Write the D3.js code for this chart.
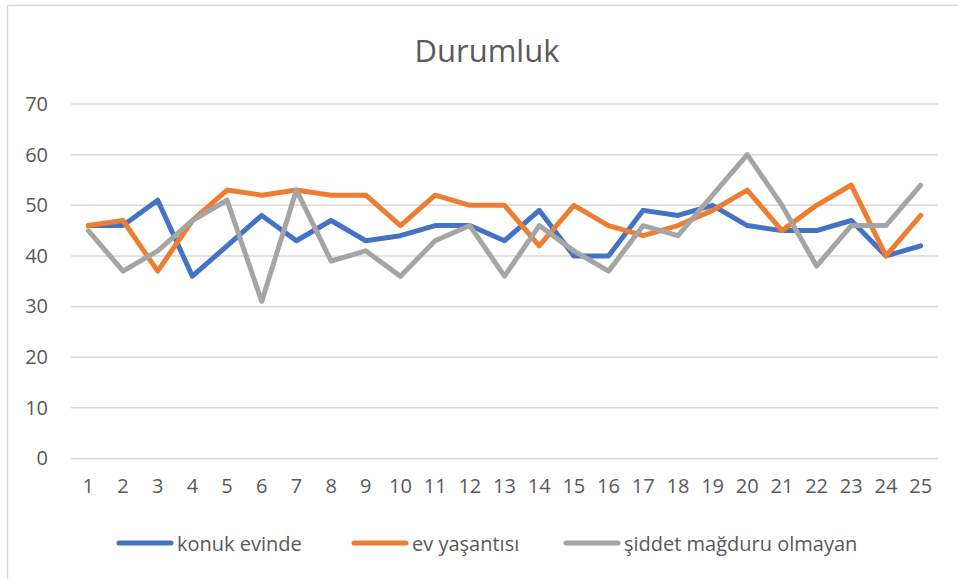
<!DOCTYPE html>
<html>
<head>
<meta charset="utf-8">
<script src="https://cdn.jsdelivr.net/npm/d3@7"></script>
<style>
  body { margin: 0; background: #fff; }
  svg { display: block; font-family: 'Open Sans', sans-serif; }
</style>
</head>
<body>
<svg id="chart" width="958" height="579"></svg>
<script>
const categories = d3.range(1, 26)
const konukEvinde = [46, 46, 51, 36, 42, 48, 43, 47, 43, 44, 46, 46, 43, 49, 40, 40, 49, 48, 50, 46, 45, 45, 47, 40, 42]
const evYasantisi = [46, 47, 37, 47, 53, 52, 53, 52, 52, 46, 52, 50, 50, 42, 50, 46, 44, 46, 49, 53, 45, 50, 54, 40, 48]
const siddetYok = [45, 37, 41, 47, 51, 31, 53, 39, 41, 36, 43, 46, 36, 46, 41, 37, 46, 44, 52, 60, 50, 38, 46, 46, 54]
const yTicks = [0, 10, 20, 30, 40, 50, 60, 70]

const series = [
  {name: 'konuk evinde', values: konukEvinde, color: '#4472C4'},
  {name: 'ev yaşantısı', values: evYasantisi, color: '#ED7D31'},
  {name: 'şiddet mağduru olmayan', values: siddetYok, color: '#A5A5A5'},
]

const svg = d3.select('#chart')
const textColor = '#595959'

// outer chart border (runs off the right and bottom edges)
svg.append('rect')
  .attr('x', 7.5).attr('y', 5.5)
  .attr('width', 1000).attr('height', 1000)
  .attr('fill', '#fff')
  .attr('stroke', '#D9D9D9')
  .attr('stroke-width', 1.5)

const x = d3.scaleBand()
  .domain(categories)
  .range([71, 938])
const y = d3.scaleLinear()
  .domain([0, 70])
  .range([458.5, 104])
const cx = (d) => x(d) + x.bandwidth() / 2

svg.append('text')
  .attr('x', 487).attr('y', 50)
  .attr('text-anchor', 'middle')
  .attr('dominant-baseline', 'central')
  .style('font-size', '31px')
  .style('fill', textColor)
  .text('Durumluk')

// gridlines
svg.append('g')
  .selectAll('line')
  .data(yTicks)
  .enter().append('line')
  .attr('x1', 71).attr('x2', 938)
  .attr('y1', (d) => y(d)).attr('y2', (d) => y(d))
  .attr('stroke', '#D9D9D9')
  .attr('stroke-width', 1.5)

// y axis labels
const yAxis = svg.append('g')
  .attr('transform', 'translate(71,0)')
  .call(d3.axisLeft(y).tickValues(yTicks).tickSize(0).tickPadding(23))
yAxis.select('.domain').remove()
yAxis.selectAll('text')
  .style('font-size', '20px')
  .style('font-family', "'Open Sans', sans-serif")
  .style('fill', textColor)

// x axis labels
const xAxis = svg.append('g')
  .attr('transform', `translate(0,${y(0)})`)
  .call(d3.axisBottom(x).tickSize(0).tickPadding(20))
xAxis.select('.domain').remove()
xAxis.selectAll('text')
  .style('font-size', '20px')
  .style('font-family', "'Open Sans', sans-serif")
  .style('fill', textColor)

const line = d3.line()
  .x((d, i) => cx(categories[i]))
  .y((d) => y(d))

svg.append('g')
  .selectAll('path')
  .data(series)
  .enter().append('path')
  .attr('d', (d) => line(d.values))
  .attr('fill', 'none')
  .attr('stroke', (d) => d.color)
  .attr('stroke-width', 5)
  .attr('stroke-linejoin', 'round')
  .attr('stroke-linecap', 'round')

// legend
const legendX = [119, 354, 566]
const legend = svg.append('g')
  .selectAll('g')
  .data(series)
  .enter().append('g')
  .attr('transform', (d, i) => `translate(${legendX[i]},543)`)
legend.append('line')
  .attr('x1', 0).attr('x2', 52)
  .attr('stroke', (d) => d.color)
  .attr('stroke-width', 5)
  .attr('stroke-linecap', 'round')
legend.append('text')
  .attr('x', 58)
  .attr('dominant-baseline', 'central')
  .style('font-size', '20px')
  .style('fill', textColor)
  .text((d) => d.name)
</script>
</body>
</html>
